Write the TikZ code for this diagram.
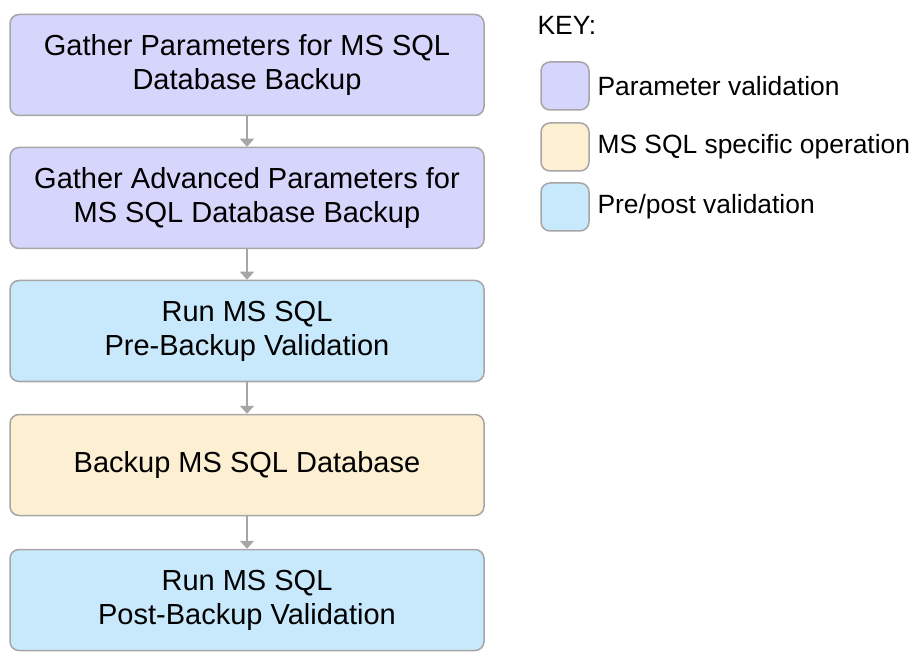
\documentclass[tikz,border=0pt]{standalone}
\usepackage{fontspec}
\setmainfont{Liberation Sans}
\usetikzlibrary{arrows.meta}

\definecolor{paramfill}{RGB}{214,213,251}
\definecolor{sqlfill}{RGB}{253,239,210}
\definecolor{prepostfill}{RGB}{200,232,251}
\definecolor{edgegray}{RGB}{166,166,166}

\tikzset{
    stepbox/.style={draw=edgegray, line width=1.5pt, rounded corners=9pt,
        minimum width=474pt, minimum height=101pt, align=center,
        font=\fontsize{29}{34}\selectfont},
    keybox/.style={draw=edgegray, line width=1.5pt, rounded corners=9pt,
        minimum width=48pt, minimum height=48pt},
    keytext/.style={anchor=west, font=\fontsize{26.4}{30}\selectfont},
    flow/.style={draw=edgegray, line width=1.5pt, -{Triangle[width=14pt,length=8pt]}}
}

\begin{document}
\begin{tikzpicture}[x=1pt, y=-1pt]
        \useasboundingbox (0, 0) rectangle (916, 652);

        \node[stepbox, fill=paramfill] (gather) at (247, 65) {Gather Parameters for MS SQL\\Database Backup};
        \node[stepbox, fill=paramfill] (advanced) at (247, 198) {Gather Advanced Parameters for\\MS SQL Database Backup};
        \node[stepbox, fill=prepostfill] (prebackup) at (247, 331) {Run MS SQL\\Pre-Backup Validation};
        \node[stepbox, fill=sqlfill] (backup) at (247, 465) {Backup MS SQL Database};
        \node[stepbox, fill=prepostfill] (postbackup) at (247, 600) {Run MS SQL\\Post-Backup Validation};

        \draw[flow] (gather) -- (advanced);
        \draw[flow] (advanced) -- (prebackup);
        \draw[flow] (prebackup) -- (backup);
        \draw[flow] (backup) -- (postbackup);

        \node[keytext] (keytitle) at (534, 25) {KEY:};
        \node[keybox, fill=paramfill] (keyparam) at (565, 86) {};
        \node[keybox, fill=sqlfill] (keysql) at (565, 147) {};
        \node[keybox, fill=prepostfill] (keyprepost) at (565, 207) {};
        \node[keytext] (labelparam) at (594, 86) {Parameter validation};
        \node[keytext] (labelsql) at (594, 147) {MS SQL specific operation};
        \node[keytext] (labelprepost) at (594, 207) {Pre/post validation};
        \end{tikzpicture}
\end{document}
